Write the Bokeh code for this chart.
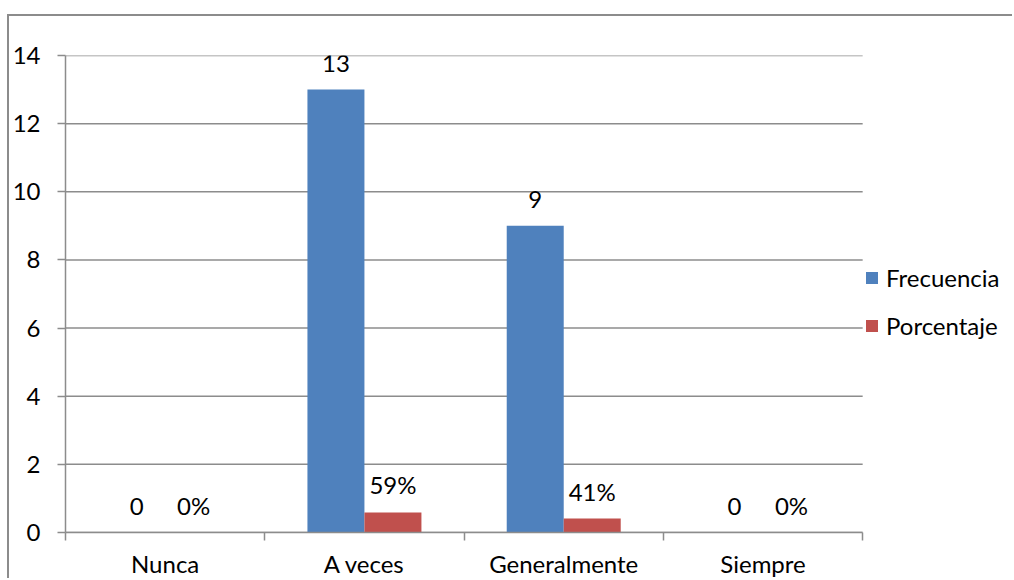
from bokeh.plotting import figure
from bokeh.models import (ColumnDataSource, FixedTicker, Legend, LegendItem,
                          LabelSet)
from bokeh.core.properties import value
from bokeh.transform import dodge
from bokeh.embed import file_html
from bokeh.resources import INLINE

# Survey answers and their counts / shares
categories = ["Nunca", "A veces", "Generalmente", "Siempre"]
frecuencia = [0, 13, 9, 0]
porcentaje = [0.0, 0.59, 0.41, 0.0]
y_ticks = [0, 2, 4, 6, 8, 10, 12, 14]

FONT = "Lato"
FS = "24px"
GRID = "#8c8c8c"
BLUE = "#4F81BD"
RED = "#C0504D"

n = len(categories)
pos = [i + 0.5 for i in range(n)]
src = ColumnDataSource(dict(
    x=pos,
    frec=frecuencia,
    pct=porcentaje,
    frec_lbl=[str(v) for v in frecuencia],
    pct_lbl=[f"{round(v * 100)}%" for v in porcentaje],
))

# plot area: 798 px for the categories, the rest of the width holds the legend
cat_px = 798
W, H = 1005, 564
left_b = 55
x_end = n * (W - left_b) / cat_px

p = figure(width=W, height=H, x_range=(0, x_end), y_range=(0, 14),
           output_backend="svg", toolbar_location=None,
           min_border_left=left_b, min_border_right=0,
           min_border_top=39, min_border_bottom=47)
p.outline_line_color = None
p.background_fill_color = "white"
p.border_fill_color = "white"
# chart border (top and left edges)
p.margin = (14, 0, 0, 7)
p.styles = {"border-top": f"2px solid {GRID}", "border-left": f"2px solid {GRID}"}

# horizontal gridlines across the category area only
p.xgrid.grid_line_color = None
p.ygrid.grid_line_color = None
p.segment(x0=[0] * len(y_ticks), x1=[n] * len(y_ticks), y0=y_ticks, y1=y_ticks,
          line_color=GRID, line_width=1.5)

bw = 0.286
r1 = p.vbar(x=dodge("x", -bw / 2), top="frec", width=bw, source=src,
            fill_color=BLUE, line_color=None)
r2 = p.vbar(x=dodge("x", bw / 2), top="pct", width=bw, source=src,
            fill_color=RED, line_color=None)

# value labels above the bars
for col, lbl, off in (("frec", "frec_lbl", -bw / 2), ("pct", "pct_lbl", bw / 2)):
    p.add_layout(LabelSet(x=dodge("x", off), y=col, text=lbl, source=src,
                          text_align="center", text_baseline="alphabetic",
                          y_offset=18, text_font=value(FONT), text_font_size=value(FS),
                          text_color="black"))

# y axis
p.yaxis.ticker = FixedTicker(ticks=y_ticks)
p.yaxis.axis_line_color = GRID
p.yaxis.axis_line_width = 1.5
p.yaxis.major_tick_line_color = GRID
p.yaxis.major_tick_line_width = 1.5
p.yaxis.major_tick_in = 0
p.yaxis.major_tick_out = 8
p.yaxis.minor_tick_line_color = None
p.yaxis.major_label_standoff = 17
p.yaxis.major_label_text_font = FONT
p.yaxis.major_label_text_font_size = FS
p.yaxis.major_label_text_color = "black"

# x axis: labels at the category centres, tick marks at the boundaries
p.xaxis.bounds = (0, n)
p.xaxis.ticker = FixedTicker(ticks=pos, minor_ticks=list(range(n + 1)))
p.xaxis.major_label_overrides = {v: c for v, c in zip(pos, categories)}
p.xaxis.axis_line_color = GRID
p.xaxis.axis_line_width = 1.5
p.xaxis.major_tick_line_color = None
p.xaxis.minor_tick_line_color = GRID
p.xaxis.minor_tick_line_width = 1.5
p.xaxis.minor_tick_in = 0
p.xaxis.minor_tick_out = 8
p.xaxis.major_label_standoff = 8
p.xaxis.major_label_text_font = FONT
p.xaxis.major_label_text_font_size = FS
p.xaxis.major_label_text_color = "black"

legend = Legend(items=[LegendItem(label="Frecuencia", renderers=[r1]),
                       LegendItem(label="Porcentaje", renderers=[r2])],
                location=(cat_px + 1, 192), orientation="vertical",
                glyph_width=15, glyph_height=15, label_height=24,
                label_standoff=7, spacing=19, padding=0, margin=0,
                label_text_font=FONT, label_text_font_size=FS,
                label_text_color="black",
                border_line_color=None, background_fill_alpha=0)
p.add_layout(legend)

open("out.html", "w").write(file_html(p, INLINE))
